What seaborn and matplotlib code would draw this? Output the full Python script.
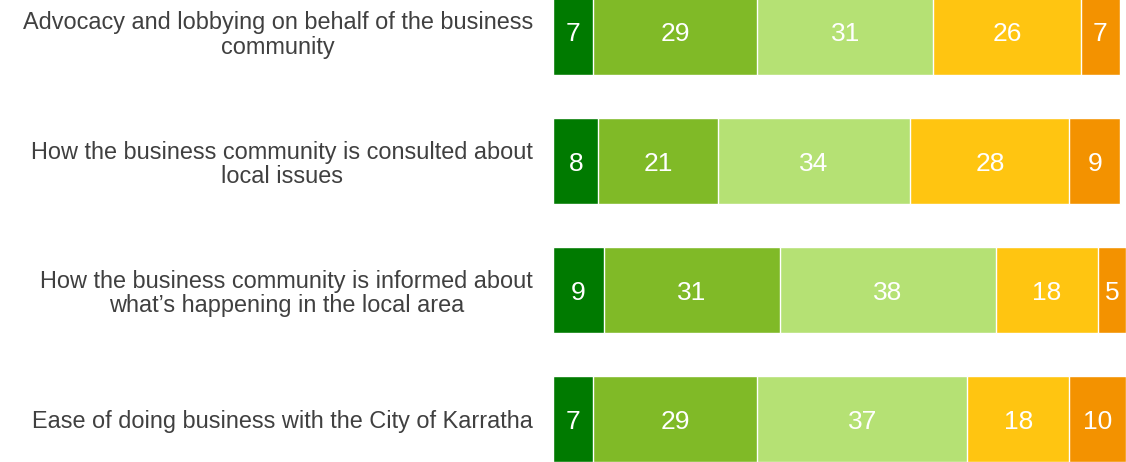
import matplotlib
matplotlib.use("Agg")
import matplotlib.pyplot as plt
import seaborn as sns
import numpy as np
import pandas as pd

categories = [
    "Advocacy and lobbying on behalf of the business\ncommunity",
    "How the business community is consulted about\nlocal issues",
    "How the business community is informed about\nwhat\u2019s happening in the local area",
    "Ease of doing business with the City of Karratha",
]
seg1 = [7, 8, 9, 7]
seg2 = [29, 21, 31, 29]
seg3 = [31, 34, 38, 37]
seg4 = [26, 28, 18, 18]
seg5 = [7, 9, 5, 10]
colors = ["#007A00", "#80BA27", "#B5E174", "#FFC511", "#F39200"]

sns.set_theme(style="white")
plt.rcParams["font.family"] = ["Liberation Sans", "DejaVu Sans"]

segments = [seg1, seg2, seg3, seg4, seg5]
vals = np.array(segments, dtype=float)
cums = np.cumsum(vals, axis=0)

fig = plt.figure(figsize=(11.26, 4.62), dpi=100)
ax = fig.add_axes([553 / 1126, 0.0, 1 - 553 / 1126, 1.0])

for i in range(len(segments) - 1, -1, -1):
    df = pd.DataFrame({"cat": categories, "val": cums[i]})
    sns.barplot(data=df, x="val", y="cat", orient="h", color=colors[i],
                width=0.667, edgecolor="white", linewidth=1.0,
                saturation=1, ax=ax)

for i in range(len(segments)):
    for j in range(len(categories)):
        start = cums[i][j] - vals[i][j]
        ax.text(start + vals[i][j] / 2, j, f"{int(vals[i][j])}",
                ha="center", va="center_baseline", color="white", fontsize=19)

ax.set_xlim(0, 101)
ax.set_ylim(3.333, -0.248)
ax.set_xlabel("")
ax.set_ylabel("")
ax.set_xticks([])
for s in ax.spines.values():
    s.set_visible(False)
ax.tick_params(axis="y", length=0, pad=14.5, labelsize=16.9, labelcolor="#404040")
for t in ax.get_yticklabels():
    t.set_multialignment("center")
    t.set_linespacing(1.07)

fig.savefig("out.png", dpi=100)
